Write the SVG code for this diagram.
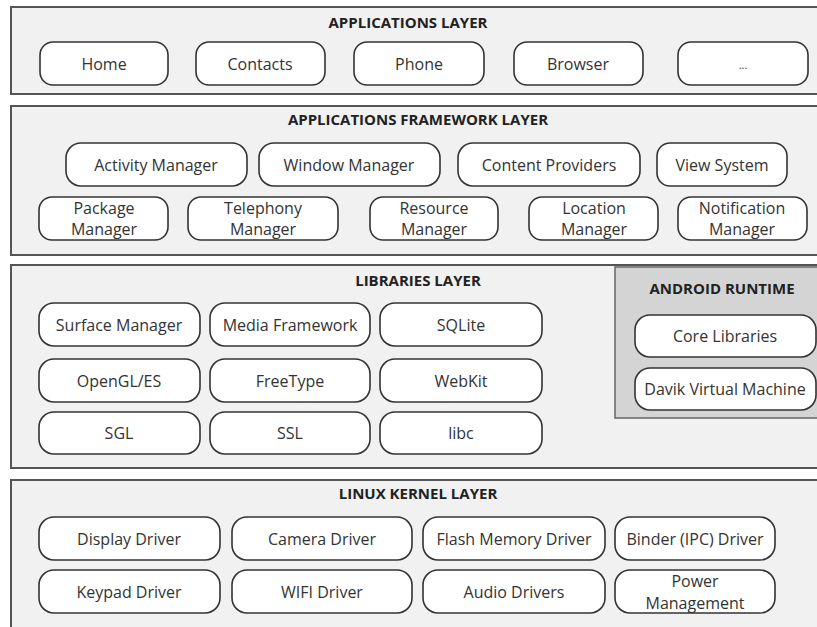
<svg xmlns="http://www.w3.org/2000/svg" width="817" height="627" viewBox="0 0 817 627">
<style>
.layer{fill:#f1f1f1;stroke:#555;stroke-width:2}
.rt{fill:#d4d4d4;stroke:#666;stroke-width:1.5}
.n{fill:#fff;stroke:#333;stroke-width:1.6}
.t{font-family:"Open Sans","Noto Sans",sans-serif;font-size:16px;fill:#333;text-anchor:middle;dominant-baseline:central}
.h{font-family:"Open Sans","Noto Sans",sans-serif;font-size:15px;font-weight:bold;fill:#222;text-anchor:middle;dominant-baseline:central}
</style>
<rect width="817" height="627" fill="#fff"/>
<g id="applications-layer">
<rect class="layer" x="11" y="7" width="820" height="87"/>
<text class="h" x="408" y="22">APPLICATIONS LAYER</text>
<g id="home"><rect class="n" x="40" y="42" width="128" height="43" rx="13"/><text class="t" x="104" y="64">Home</text></g>
<g id="contacts"><rect class="n" x="196" y="42" width="129" height="43" rx="13"/><text class="t" x="260" y="64">Contacts</text></g>
<g id="phone"><rect class="n" x="354" y="42" width="130" height="43" rx="13"/><text class="t" x="419" y="64">Phone</text></g>
<g id="browser"><rect class="n" x="514" y="42" width="129" height="43" rx="13"/><text class="t" x="578" y="64">Browser</text></g>
<g id="more"><rect class="n" x="678" y="42" width="130" height="43" rx="13"/><text class="t" x="743" y="64" style="font-size:11px">...</text></g>
</g>
<g id="framework-layer">
<rect class="layer" x="11" y="106" width="820" height="149"/>
<text class="h" x="418" y="119">APPLICATIONS FRAMEWORK LAYER</text>
<g id="activity-manager"><rect class="n" x="66" y="143" width="181" height="43" rx="15"/><text class="t" x="156" y="165">Activity Manager</text></g>
<g id="window-manager"><rect class="n" x="259" y="143" width="181" height="43" rx="15"/><text class="t" x="349" y="165">Window Manager</text></g>
<g id="content-providers"><rect class="n" x="458" y="143" width="182" height="43" rx="15"/><text class="t" x="549" y="165">Content Providers</text></g>
<g id="view-system"><rect class="n" x="657" y="143" width="130" height="43" rx="13"/><text class="t" x="722" y="165">View System</text></g>
<g id="package-manager"><rect class="n" x="39" y="197" width="129" height="43" rx="13"/><text class="t" x="104" y="208">Package</text><text class="t" x="104" y="229">Manager</text></g>
<g id="telephony-manager"><rect class="n" x="188" y="197" width="150" height="43" rx="13"/><text class="t" x="263" y="208">Telephony</text><text class="t" x="263" y="229">Manager</text></g>
<g id="resource-manager"><rect class="n" x="370" y="197" width="128" height="43" rx="13"/><text class="t" x="434" y="208">Resource</text><text class="t" x="434" y="229">Manager</text></g>
<g id="location-manager"><rect class="n" x="529" y="197" width="129" height="43" rx="13"/><text class="t" x="594" y="208">Location</text><text class="t" x="594" y="229">Manager</text></g>
<g id="notification-manager"><rect class="n" x="678" y="197" width="129" height="43" rx="13"/><text class="t" x="742" y="208">Notification</text><text class="t" x="742" y="229">Manager</text></g>
</g>
<g id="libraries-layer">
<rect class="layer" x="11" y="265" width="820" height="203"/>
<text class="h" x="418" y="280">LIBRARIES LAYER</text>
<g id="surface-manager"><rect class="n" x="39" y="303" width="161" height="43" rx="15"/><text class="t" x="119" y="325">Surface Manager</text></g>
<g id="media-framework"><rect class="n" x="210" y="303" width="160" height="43" rx="15"/><text class="t" x="290" y="325">Media Framework</text></g>
<g id="sqlite"><rect class="n" x="380" y="303" width="162" height="43" rx="15"/><text class="t" x="461" y="325">SQLite</text></g>
<g id="opengl"><rect class="n" x="39" y="359" width="161" height="43" rx="15"/><text class="t" x="119" y="381">OpenGL/ES</text></g>
<g id="freetype"><rect class="n" x="210" y="359" width="160" height="43" rx="15"/><text class="t" x="290" y="381">FreeType</text></g>
<g id="webkit"><rect class="n" x="380" y="359" width="162" height="43" rx="15"/><text class="t" x="461" y="381">WebKit</text></g>
<g id="sgl"><rect class="n" x="39" y="412" width="161" height="42" rx="15"/><text class="t" x="119" y="433">SGL</text></g>
<g id="ssl"><rect class="n" x="210" y="412" width="160" height="42" rx="15"/><text class="t" x="290" y="433">SSL</text></g>
<g id="libc"><rect class="n" x="380" y="412" width="162" height="42" rx="15"/><text class="t" x="461" y="433">libc</text></g>
<g id="android-runtime">
<rect class="rt" x="615" y="267" width="220" height="151"/>
<text class="h" x="722" y="288">ANDROID RUNTIME</text>
<g id="core-libraries"><rect class="n" x="635" y="315" width="181" height="42" rx="15"/><text class="t" x="725" y="336">Core Libraries</text></g>
<g id="davik-vm"><rect class="n" x="635" y="368" width="181" height="42" rx="15"/><text class="t" x="725" y="389">Davik Virtual Machine</text></g>
</g>
</g>
<g id="kernel-layer">
<rect class="layer" x="11" y="480" width="820" height="160"/>
<text class="h" x="418" y="493">LINUX KERNEL LAYER</text>
<g id="display-driver"><rect class="n" x="39" y="517" width="181" height="43" rx="15"/><text class="t" x="129" y="539">Display Driver</text></g>
<g id="camera-driver"><rect class="n" x="232" y="517" width="180" height="43" rx="15"/><text class="t" x="322" y="539">Camera Driver</text></g>
<g id="flash-driver"><rect class="n" x="423" y="517" width="182" height="43" rx="15"/><text class="t" x="514" y="539">Flash Memory Driver</text></g>
<g id="binder-driver"><rect class="n" x="615" y="517" width="160" height="43" rx="15"/><text class="t" x="695" y="539">Binder (IPC) Driver</text></g>
<g id="keypad-driver"><rect class="n" x="39" y="570" width="181" height="43" rx="15"/><text class="t" x="129" y="592">Keypad Driver</text></g>
<g id="wifi-driver"><rect class="n" x="232" y="570" width="180" height="43" rx="15"/><text class="t" x="322" y="592">WIFI Driver</text></g>
<g id="audio-drivers"><rect class="n" x="423" y="570" width="182" height="43" rx="15"/><text class="t" x="514" y="592">Audio Drivers</text></g>
<g id="power-management"><rect class="n" x="615" y="570" width="160" height="43" rx="15"/><text class="t" x="695" y="581">Power</text><text class="t" x="695" y="603">Management</text></g>
</g>
<g id="connectors"></g>
</svg>
